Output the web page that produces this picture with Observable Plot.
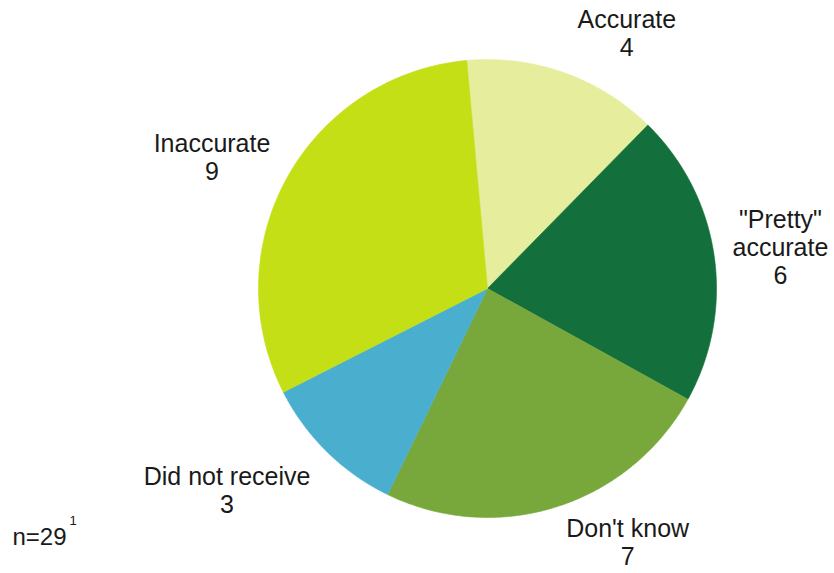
<!DOCTYPE html>
<html>
<head>
<meta charset="utf-8">
<script src="https://cdn.jsdelivr.net/npm/d3@7"></script>
<script src="https://cdn.jsdelivr.net/npm/@observablehq/plot@0.6"></script>
<style>
  html, body { margin: 0; padding: 0; background: #fff; }
  #chart { width: 834px; height: 573px; }
</style>
</head>
<body>
<div id="chart"></div>
<script>
// Data
const categories = ["Accurate", "\"Pretty\" accurate", "Don't know", "Did not receive", "Inaccurate"];
const labelText = ["Accurate", "\"Pretty\"\naccurate", "Don't know", "Did not receive", "Inaccurate"];
const values = [4, 6, 7, 3, 9];
const colors = ["#E6EE9E", "#13703C", "#78A83C", "#4AAFCF", "#C5DF16"];
const sampleNote = "n=29";
const noteMark = "1";

// Layout (styles only)
const startAngleDeg = -5.2;
const labelRadius = 1.2;
const labelNudge = [[47, 3], [21, -2], [57, -8], [-68, 5], [-35, 1]];

const pie = d3.pie().sort(null).value(d => d.value)
  .startAngle(startAngleDeg * Math.PI / 180)
  .endAngle(startAngleDeg * Math.PI / 180 + 2 * Math.PI);
const rows = categories.map((c, i) => ({category: c, label: labelText[i], value: values[i], i}));
const arcs = pie(rows);

// Slice polygons in unit coordinates (x = sin, y = cos)
const pts = [];
for (const a of arcs) {
  const key = a.data.category;
  pts.push({key, x: 0, y: 0});
  const n = 120;
  for (let k = 0; k <= n; k++) {
    const t = a.startAngle + (a.endAngle - a.startAngle) * k / n;
    pts.push({key, x: Math.sin(t), y: Math.cos(t)});
  }
  pts.push({key, x: 0, y: 0});
}

const labels = arcs.map(a => {
  const m = (a.startAngle + a.endAngle) / 2;
  return {
    text: a.data.label + "\n" + a.data.value,
    x: labelRadius * Math.sin(m),
    y: labelRadius * Math.cos(m),
    i: a.data.i
  };
});

const font = "'Liberation Sans', Arial, sans-serif";

const chart = Plot.plot({
  width: 834,
  height: 573,
  marginLeft: 258,
  marginRight: 118,
  marginTop: 59,
  marginBottom: 56,
  x: {domain: [-1, 1], axis: null},
  y: {domain: [-1, 1], axis: null},
  color: {domain: categories, range: colors},
  style: {fontFamily: font, background: "#fff", overflow: "visible"},
  marks: [
    Plot.line(pts, {x: "x", y: "y", z: "key", fill: "key", stroke: "key", strokeWidth: 0.6, curve: "linear"}),
    ...labels.map(l => Plot.text([l], {
      x: "x", y: "y", text: "text",
      dx: labelNudge[l.i][0], dy: labelNudge[l.i][1],
      fontSize: 25, lineHeight: 1.12, fill: "#1a1a1a", lineAnchor: "middle", textAnchor: "middle"
    })),
    Plot.text([sampleNote], {frameAnchor: "bottom-left", text: d => d, dx: -246, dy: 20, fontSize: 24, fill: "#1a1a1a", textAnchor: "start", lineAnchor: "middle"}),
    Plot.text([noteMark], {frameAnchor: "bottom-left", text: d => d, dx: -189, dy: 3, fontSize: 13, fill: "#1a1a1a", textAnchor: "start", lineAnchor: "middle"})
  ]
});
document.getElementById("chart").appendChild(chart);
</script>
</body>
</html>
